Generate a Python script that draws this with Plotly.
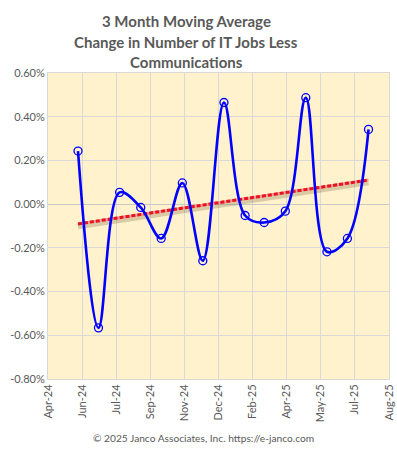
import numpy as np
import pandas as pd
import plotly.graph_objects as go

# ---- data ----
months = pd.date_range("2024-06-01", "2025-08-01", freq="MS")
values = [0.243, -0.566, 0.054, -0.015, -0.157, 0.097, -0.259, 0.465,
          -0.052, -0.084, -0.032, 0.487, -0.218, -0.157, 0.342]  # percent
y_ticks = [0.6, 0.4, 0.2, 0.0, -0.2, -0.4, -0.6, -0.8]
y_tick_labels = ["0.60%", "0.40%", "0.20%", "0.00%", "-0.20%", "-0.40%", "-0.60%", "-0.80%"]
x_start = "2024-04-18"
x_end = "2025-08-31"
tick_step_days = 50

title_lines = ["3 Month Moving Average", "Change in Number of IT Jobs Less", "Communications"]
footer_text = "© 2025 Janco Associates, Inc. https://e-janco.com"

# linear trendline (least squares)
idx = np.arange(len(values))
slope, intercept = np.polyfit(idx, values, 1)
trend = slope * idx + intercept
trend_ends_x = [months[0], months[-1]]
trend_ends_y = [trend[0], trend[-1]]
shadow_y = [v - 0.013 for v in trend_ends_y]

fig = go.Figure()
fig.add_trace(go.Scatter(x=trend_ends_x, y=shadow_y, mode="lines",
                         line=dict(color="rgba(120,100,60,0.28)", width=5),
                         hoverinfo="skip", showlegend=False))
fig.add_trace(go.Scatter(x=trend_ends_x, y=trend_ends_y, mode="lines",
                         line=dict(color="#F4A0A0", width=3),
                         hoverinfo="skip", showlegend=False))
fig.add_trace(go.Scatter(x=trend_ends_x, y=trend_ends_y, mode="lines",
                         line=dict(color="#E8141C", width=3, dash="4px,2px"),
                         hoverinfo="skip", showlegend=False))
fig.add_trace(go.Scatter(x=months, y=values, mode="lines+markers",
                         line=dict(color="#0000FF", width=2.6, shape="spline", smoothing=1),
                         marker=dict(symbol="circle-open", size=8, color="#0000FF",
                                     line=dict(width=1.3, color="#0000FF")),
                         showlegend=False))

FONT = "Lato, 'Open Sans', sans-serif"
tick_font = dict(family=FONT, size=11, color="#595959")

H = 450
T, B = 73, 71
plot_h = H - T - B

def paper_y(px):
    # convert pixel y (from top of figure) to paper coordinate
    return (H - B - px) / plot_h

annotations = []
for i, line in enumerate(title_lines):
    annotations.append(dict(text="<b>" + line + "</b>", xref="paper", yref="paper",
                            x=0.405, y=paper_y(21.5 + 20.3 * i), xanchor="center",
                            yanchor="middle", showarrow=False,
                            font=dict(family=FONT, size=15, color="#595959")))
annotations.append(dict(text=footer_text, xref="paper", yref="paper", x=0.456,
                        y=paper_y(438), xanchor="center", yanchor="middle",
                        showarrow=False, font=dict(family=FONT, size=10.2, color="#595959")))

fig.update_layout(
    width=397, height=H,
    margin=dict(l=48, r=8, t=T, b=B, autoexpand=False),
    paper_bgcolor="white",
    plot_bgcolor="#FFF2CC",
    xaxis=dict(type="date", range=[x_start, x_end], tick0=x_start,
               dtick=tick_step_days * 86400000, tickformat="%b-%y", tickangle=-90,
               showgrid=True, gridcolor="#D9D9D9", gridwidth=1,
               showline=True, linecolor="#D9D9D9", linewidth=1, mirror=True,
               ticks="", tickfont=tick_font, zeroline=False, automargin=False),
    yaxis=dict(range=[-0.8, 0.6], tickvals=y_ticks, ticktext=y_tick_labels,
               showgrid=True, gridcolor="#D9D9D9", gridwidth=1,
               showline=True, linecolor="#D9D9D9", linewidth=1, mirror=True,
               zeroline=True, zerolinecolor="#C8C8C8", zerolinewidth=1,
               ticks="", tickfont=tick_font, automargin=False),
    annotations=annotations,
)

fig.write_html("out.html", config={"displayModeBar": False},
               post_script="document.body.style.margin='0';document.body.style.padding='0';")
